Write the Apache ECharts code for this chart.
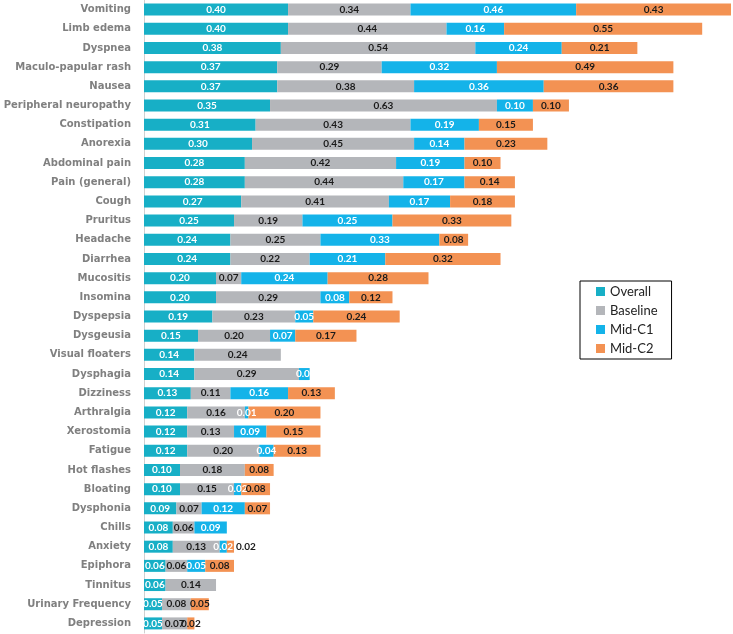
<!DOCTYPE html>
<html><head><meta charset="utf-8">
<script src="https://cdn.jsdelivr.net/npm/echarts@6/dist/echarts.min.js"></script>
<style>html,body{margin:0;padding:0;background:#fff}#c{width:733px;height:634px}</style>
</head><body><div id="c"></div>
<script>
const categories = ["Vomiting","Limb edema","Dyspnea","Maculo-papular rash","Nausea","Peripheral neuropathy","Constipation","Anorexia","Abdominal pain","Pain (general)","Cough","Pruritus","Headache","Diarrhea","Mucositis","Insomina","Dyspepsia","Dysgeusia","Visual floaters","Dysphagia","Dizziness","Arthralgia","Xerostomia","Fatigue","Hot flashes","Bloating","Dysphonia","Chills","Anxiety","Epiphora","Tinnitus","Urinary Frequency","Depression"];
const overall  = [0.40,0.40,0.38,0.37,0.37,0.35,0.31,0.30,0.28,0.28,0.27,0.25,0.24,0.24,0.20,0.20,0.19,0.15,0.14,0.14,0.13,0.12,0.12,0.12,0.10,0.10,0.09,0.08,0.08,0.06,0.06,0.05,0.05];
const baseline = [0.34,0.44,0.54,0.29,0.38,0.63,0.43,0.45,0.42,0.44,0.41,0.19,0.25,0.22,0.07,0.29,0.23,0.20,0.24,0.29,0.11,0.16,0.13,0.20,0.18,0.15,0.07,0.06,0.13,0.06,0.14,0.08,0.07];
const midC1    = [0.46,0.16,0.24,0.32,0.36,0.10,0.19,0.14,0.19,0.17,0.17,0.25,0.33,0.21,0.24,0.08,0.05,0.07,null,0.03,0.16,0.01,0.09,0.04,null,0.02,0.12,0.09,0.02,0.05,null,null,null];
const midC2    = [0.43,0.55,0.21,0.49,0.36,0.10,0.15,0.23,0.10,0.14,0.18,0.33,0.08,0.32,0.28,0.12,0.24,0.17,null,null,0.13,0.20,0.15,0.13,0.08,0.08,0.07,null,0.02,0.08,null,0.05,0.02];
const seriesNames = ["Overall","Baseline","Mid-C1","Mid-C2"];
const colors = ["#17afc6","#b4b6ba","#14b3e9","#f39253"];
const labelColors = ["#ffffff","#1a1a1a","#ffffff","#1a1a1a"];
const allData = [overall, baseline, midC1, midC2];

const chart = echarts.init(document.getElementById('c'));
const series = allData.map((arr, i) => ({
  name: seriesNames[i],
  type: 'bar',
  stack: 'total',
  barWidth: 12,
  itemStyle: { color: colors[i] },
  label: {
    show: true,
    position: 'inside',
    color: labelColors[i],
    fontFamily: 'Lato',
    fontWeight: 'bold',
    fontSize: 10,
    formatter: p => p.value == null ? '' : p.value.toFixed(2)
  },
  data: arr.map((v, j) => {
    if (i === 3 && categories[j] === 'Anxiety') {
      return { value: v, label: { position: 'right', distance: 2 } };
    }
    if (i === 2 && categories[j] === 'Dysphagia') {
      return { value: v, label: { position: 'insideRight', distance: -6 } };
    }
    return v;
  })
}));

chart.setOption({
  animation: false,
  backgroundColor: '#fff',
  grid: { left: 144, right: 2, top: 0, bottom: 1 },
  xAxis: { type: 'value', min: 0, max: 1.63, show: false },
  yAxis: {
    type: 'category',
    data: categories,
    inverse: true,
    axisLine: { show: true, lineStyle: { color: '#d0d0d0', width: 1 } },
    axisTick: { show: false },
    axisLabel: { margin: 13, color: '#808080', fontFamily: 'DejaVu Sans', fontWeight: 'bold', fontSize: 10 }
  },
  legend: {
    orient: 'vertical',
    left: 580, top: 281,
    data: seriesNames,
    icon: 'rect',
    itemWidth: 9, itemHeight: 9, itemGap: 6,
    padding: [4, 14, 4, 16],
    borderColor: '#000', borderWidth: 1, backgroundColor: '#fff',
    textStyle: { fontFamily: 'Lato', fontSize: 13, color: '#222', lineHeight: 13 }
  },
  series: series
});
</script></body></html>
